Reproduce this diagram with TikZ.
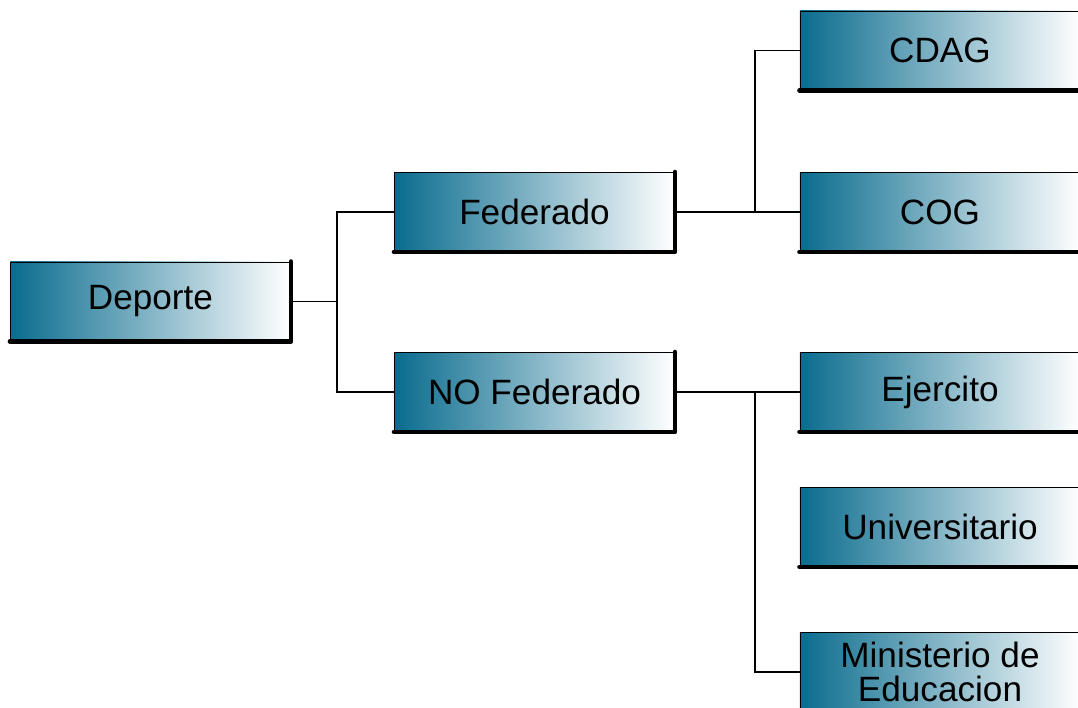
\documentclass[tikz,border=0pt]{standalone}
\usepackage{fontspec}
\setmainfont{Liberation Sans}
\usepackage{pgf,tikz}
\usetikzlibrary{shapes, arrows, positioning}
\definecolor{azulpetroleo}{RGB}{10,108,142}
\tikzstyle{caja} = [draw=black, line width=0.6pt, rectangle, left color=azulpetroleo, right color=white, minimum width=7cm, minimum height=1.975cm, inner sep=1pt, align=center, font=\fontsize{25}{25}\selectfont]
\tikzstyle{sombra} = [line width=3.4pt, line cap=round, line join=round]
\tikzstyle{rama} = [line width=0.8pt]

\begin{document}
\begin{tikzpicture}[x=0.025cm, y=-0.025cm]
	\useasboundingbox (0,0) rectangle (1078,708);
	\node [caja] (deporte) at (150.5,301.5) {Deporte};
	\node [caja] (federado) at (534.5,212) {Federado};
	\node [caja] (nofed) at (534.5,392) {NO Federado};
	\node [caja] (cdag) at (940,50.5) {CDAG};
	\node [caja] (cog) at (940,212) {COG};
	\node [caja] (ejercito) at (940,392) {Ejercito};
	\node [caja] (univ) at (940,527) {Universitario};
	\node [caja] (mined) at (940,672) {Ministerio de\\[-1pt]Educacion};
	\foreach \n in {deporte,federado,nofed,cdag,cog,ejercito,univ,mined}
		\draw [sombra] (\n.south west) -- (\n.south east) -- (\n.north east);
	\coordinate (b0) at (337,301.5);
	\coordinate (b1) at (755,212);
	\coordinate (b2) at (755,392);
	\draw [rama] (deporte.east) -- (b0);
	\draw [rama] (federado.west) -| (b0) |- (nofed.west);
	\draw [rama] (federado.east) -- (cog.west);
	\draw [rama] (cdag.west) -| (b1);
	\draw [rama] (nofed.east) -- (ejercito.west);
	\draw [rama] (mined.west) -| (b2);
\end{tikzpicture}
\end{document}
